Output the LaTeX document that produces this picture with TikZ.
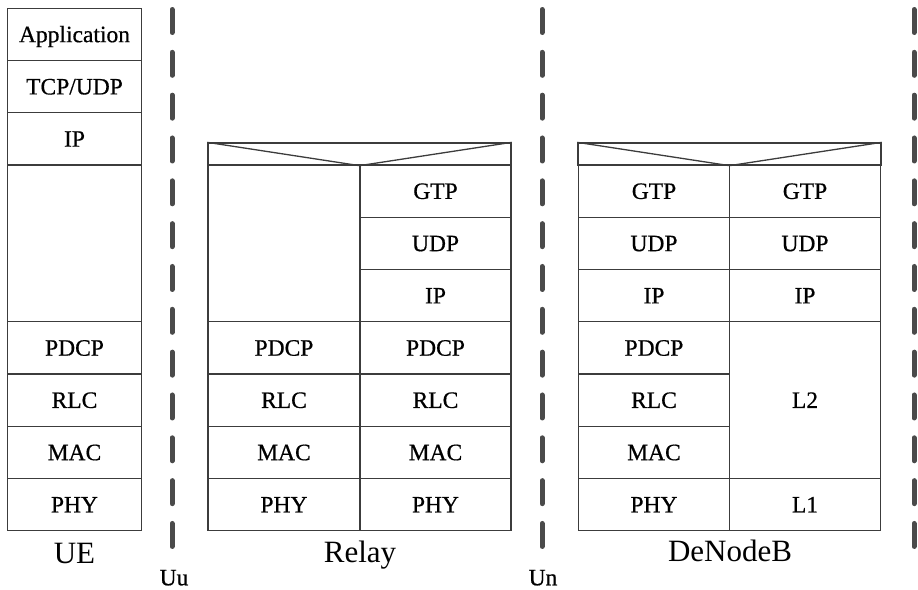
\documentclass[tikz,border=0pt]{standalone}
\usepackage{fontspec}
\setmainfont{Liberation Serif}
\newfontfamily\medfont{Liberation Serif}[FakeBold=0.6]
\definecolor{boxline}{HTML}{3C3C3C}
\definecolor{dashline}{HTML}{4A4A4A}
\tikzset{
  cell/.style={draw=boxline, line width=1.3pt, inner sep=0pt, minimum height=52.25pt,
    text height=15.6pt, text depth=0pt, font=\medfont\fontsize{23.5}{28}\selectfont},
  uecell/.style={cell, minimum width=134pt},
  lcell/.style={cell, minimum width=152pt},
  rcell/.style={cell, minimum width=151pt},
  tallcell/.style={minimum height=156.75pt},
  hdr/.style={draw=boxline, line width=1.3pt, inner sep=0pt, minimum width=303pt, minimum height=22pt},
  vline/.style={draw=boxline, line width=1.3pt},
  sepline/.style={draw=dashline, line width=5pt, line cap=round, dash pattern=on 23pt off 19.83pt},
  biglab/.style={inner sep=0pt, text height=20.5pt, text depth=0pt, font=\fontsize{31}{36}\selectfont},
  smalllab/.style={inner sep=0pt, text height=15.6pt, text depth=0pt, font=\medfont\fontsize{23.5}{28}\selectfont}
}
\begin{document}
\begin{tikzpicture}[x=1pt,y=-1pt]
\useasboundingbox (0,0) rectangle (918,589);
% UE stack
\node[uecell] (ueapp) at (74.5,34.375) {Application};
\node[uecell] (uetcp) at (74.5,86.625) {TCP/UDP};
\node[uecell] (ueip) at (74.5,138.875) {IP};
\node[uecell, tallcell] (ueblank) at (74.5,243.375) {};
\node[uecell] (uepdcp) at (74.5,347.875) {PDCP};
\node[uecell] (uerlc) at (74.5,400.125) {RLC};
\node[uecell] (uemac) at (74.5,452.375) {MAC};
\node[uecell] (uephy) at (74.5,504.625) {PHY};
\node[biglab] (uelab) at (74.5,553) {UE};
% Relay
\node[hdr] (rhdr) at (359.5,154) {};
\draw[vline] (rhdr.north west) -- (rhdr.south) -- (rhdr.north east);
\node[lcell, tallcell] (rblank) at (284,243.375) {};
\node[rcell] (rgtp) at (435.5,191.125) {GTP};
\node[rcell] (rudp) at (435.5,243.375) {UDP};
\node[rcell] (rip) at (435.5,295.625) {IP};
\node[lcell] (rpdcpl) at (284,347.875) {PDCP};
\node[rcell] (rpdcpr) at (435.5,347.875) {PDCP};
\node[lcell] (rrlcl) at (284,400.125) {RLC};
\node[rcell] (rrlcr) at (435.5,400.125) {RLC};
\node[lcell] (rmacl) at (284,452.375) {MAC};
\node[rcell] (rmacr) at (435.5,452.375) {MAC};
\node[lcell] (rphyl) at (284,504.625) {PHY};
\node[rcell] (rphyr) at (435.5,504.625) {PHY};
\node[biglab] (rlab) at (360,552) {Relay};
% DeNodeB
\node[hdr] (dhdr) at (729.5,154) {};
\draw[vline] (dhdr.north west) -- (dhdr.south) -- (dhdr.north east);
\node[rcell] (dgtpl) at (654,191.125) {GTP};
\node[rcell] (dgtpr) at (805,191.125) {GTP};
\node[rcell] (dudpl) at (654,243.375) {UDP};
\node[rcell] (dudpr) at (805,243.375) {UDP};
\node[rcell] (dipl) at (654,295.625) {IP};
\node[rcell] (dipr) at (805,295.625) {IP};
\node[rcell] (dpdcp) at (654,347.875) {PDCP};
\node[rcell] (drlc) at (654,400.125) {RLC};
\node[rcell] (dmac) at (654,452.375) {MAC};
\node[rcell, tallcell] (dltwo) at (805,400.125) {L2};
\node[rcell] (dphy) at (654,504.625) {PHY};
\node[rcell] (dlone) at (805,504.625) {L1};
\node[biglab] (dlab) at (730,551) {DeNodeB};
% separators
\coordinate (s1a) at (172,9.5); \coordinate (s1b) at (172,546.5);
\coordinate (s2a) at (542,9.5); \coordinate (s2b) at (542,546.5);
\coordinate (s3a) at (914,9.5); \coordinate (s3b) at (914,546.5);
\draw[sepline] (s1a) -- (s1b);
\draw[sepline] (s2a) -- (s2b);
\draw[sepline] (s3a) -- (s3b);
\node[smalllab] (uu) at (174,577.5) {Uu};
\node[smalllab] (un) at (543,577.5) {Un};
\end{tikzpicture}
\end{document}
